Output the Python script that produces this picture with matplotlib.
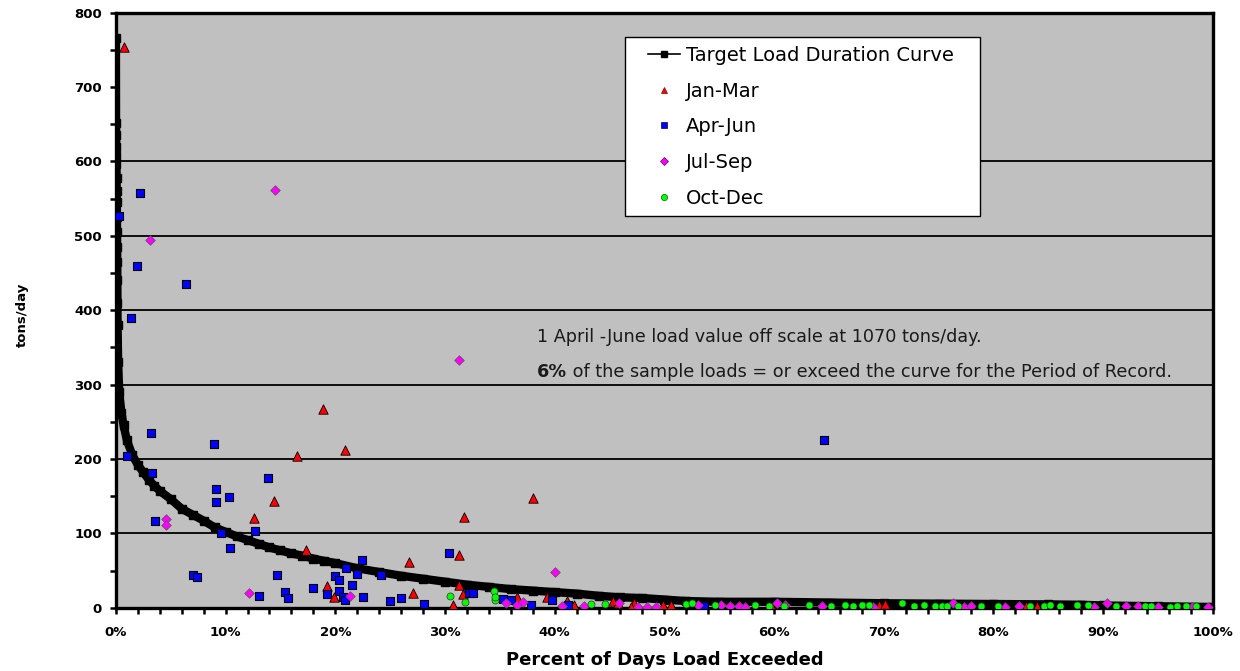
import matplotlib
matplotlib.use("Agg")
import matplotlib.pyplot as plt
from matplotlib.lines import Line2D
from matplotlib.legend_handler import HandlerLine2D
from matplotlib.ticker import MultipleLocator, FuncFormatter

# Target load duration curve (percent of days exceeded vs. load, tons/day)
curve_pct = [0.0, 0.01, 0.02, 0.03, 0.04, 0.05, 0.06, 0.07, 0.08, 0.09, 0.10,
             0.11, 0.12, 0.13, 0.14, 0.15, 0.2, 0.3, 0.5, 0.7, 1.0, 1.5, 2.0,
             2.5, 3.0, 3.5, 4.0, 5.0, 6.0, 7.0, 8.0, 9.0, 10.0, 11.0, 12.0,
             13.0, 14.0, 15.0, 16.0, 17.0, 18.0, 19.0, 20.0, 22.0, 24.0, 26.0,
             28.0, 30.0, 32.0, 34.0, 36.0, 38.0, 40.0, 42.0, 44.0, 46.0, 48.0,
             50.0, 52.0, 55.0, 60.0, 65.0, 70.0, 75.0, 80.0, 85.0, 88.0, 90.0,
             95.0, 100.0]
curve_load = [766, 652, 636, 620, 607, 596, 578, 560, 545, 525, 505,
              485, 465, 440, 410, 380, 330, 290, 262, 245, 225, 205, 192,
              182, 172, 164, 157, 146, 133, 125, 117, 108, 102, 96, 91,
              86, 81, 77, 73, 70, 66, 63, 60, 53, 48, 43,
              39, 35, 31, 28, 25, 23, 21, 19, 16, 14, 13,
              11, 9, 8, 8, 7, 6, 5.5, 5, 4.5, 4, 3,
              2, 1]

# Sample loads by season
jan_pct = [0.7, 18.9, 20.9, 16.5, 14.4, 12.6, 17.3, 38.0, 31.7, 26.7, 31.3,
           19.2, 19.9, 27.1, 31.3, 31.6, 30.7, 36.6, 39.3, 41.1, 41.8, 45.3,
           45.8, 47.2, 47.0, 49.9, 50.6, 59.8, 69.6, 68.1, 70.1, 83.0, 84.0,
           87.7, 94.8]
jan_load = [754, 267, 212, 204, 143, 120, 78, 147, 122, 61, 71,
            29, 15, 20, 30, 18, 4, 14, 14, 9, 4, 9,
            7, 6, 1, 3, 3, 1, 3, 1, 5, 2, 2,
            1, 1]

apr_pct = [0.3, 2.2, 1.9, 6.4, 1.4, 3.2, 1.0, 3.3, 8.9, 9.1, 9.1, 10.3, 13.9,
           3.6, 9.6, 10.4, 12.7, 7.0, 7.4, 14.7, 13.0, 15.4, 15.7, 18.0, 22.4,
           21.0, 22.0, 24.2, 20.0, 20.3, 21.5, 19.2, 20.3, 20.7, 20.9, 22.5,
           25.0, 26.0, 28.1, 30.4, 32.2, 32.6, 35.3, 36.0, 37.8, 39.8, 41.2,
           53.6, 64.6]
apr_load = [526, 557, 460, 435, 390, 235, 204, 181, 220, 159, 142, 149, 174,
            117, 101, 80, 103, 44, 41, 44, 16, 21, 13, 26, 64,
            53, 45, 44, 42, 37, 30, 18, 23, 14, 10, 14,
            9, 13, 5, 74, 20, 20, 12, 10, 3, 10, 4,
            2, 225]

jul_pct = [14.5, 3.1, 31.3, 40.0, 4.6, 4.6, 12.1, 21.3, 35.6, 36.6, 37.1,
           40.7, 42.7, 45.9, 47.6, 48.4, 49.2, 53.1, 55.2, 56.0, 56.8, 57.4,
           60.3, 61.0, 64.4, 69.0, 76.3, 77.3, 78.0, 81.1, 82.3, 89.2, 90.4,
           92.1, 93.2, 95.0, 98.1, 99.6]
jul_load = [562, 494, 333, 48, 119, 111, 20, 16, 6, 4, 8,
            2, 2, 6, 1, 1, 1, 3, 3, 2, 2, 1,
            6, 3, 2, 1, 7, 1, 2, 1, 2, 1, 6,
            2, 2, 1, 0.5, 1]

oct_pct = [30.5, 31.8, 34.5, 34.6, 34.6, 43.3, 44.6, 52.0, 52.5, 54.6, 58.3,
           59.5, 60.9, 63.2, 65.2, 66.5, 67.2, 68.0, 68.7, 71.7, 72.8, 73.7,
           74.7, 75.3, 75.8, 76.8, 78.9, 80.4, 83.3, 84.6, 85.2, 86.1, 87.6,
           88.6, 91.2, 93.8, 94.4, 96.1, 96.7, 97.6, 98.5]
oct_load = [16, 8, 22, 10, 14, 5, 5, 5, 6, 3, 3,
            2, 2, 3, 2, 3, 2, 3, 3, 6, 2, 3,
            2, 2, 2, 2, 2, 2, 2, 2, 3, 2, 3,
            3, 2, 2, 2, 1, 2, 2, 2]

y_ticks = [0, 100, 200, 300, 400, 500, 600, 700, 800]
grid_levels = [100, 200, 300, 400, 500, 600]
x_ticks = [0, 10, 20, 30, 40, 50, 60, 70, 80, 90, 100]
series_labels = ['Target Load Duration Curve', 'Jan-Mar', 'Apr-Jun',
                 'Jul-Sep', 'Oct-Dec']

plt.rcParams['font.family'] = ['DejaVu Sans']

fig = plt.figure(figsize=(12.4, 6.71), dpi=100)
ax = fig.add_axes([0.0935, 0.0943, 0.8845, 0.8868])
ax.set_facecolor('#C0C0C0')

for g in grid_levels:
    ax.axhline(g, color='black', lw=1.3, zorder=1)

# Duration curve: thick black band of square markers
ax.plot(curve_pct, curve_load, color='black', lw=6.0, marker='s', ms=5.5,
        solid_capstyle='butt', zorder=2)

ax.scatter(jan_pct, jan_load, marker='^', s=46, c='#FF0000',
           edgecolors='black', linewidths=0.6, zorder=3)
ax.scatter(apr_pct, apr_load, marker='s', s=32, c='#0000FF',
           edgecolors='black', linewidths=0.8, zorder=4)
ax.scatter(jul_pct, jul_load, marker='D', s=24, c='#FF00FF',
           edgecolors='#555555', linewidths=0.5, zorder=5)
ax.scatter(oct_pct, oct_load, marker='o', s=26, c='#00FF00',
           edgecolors='#333333', linewidths=0.5, zorder=6)

ax.set_xlim(0, 100)
ax.set_ylim(0, 800)
ax.set_yticks(y_ticks)
ax.yaxis.set_minor_locator(MultipleLocator(50))
ax.set_xticks(x_ticks)
ax.xaxis.set_minor_locator(MultipleLocator(2))
ax.xaxis.set_major_formatter(FuncFormatter(lambda v, p: f"{int(v)}%"))

for lab in ax.get_xticklabels() + ax.get_yticklabels():
    lab.set_fontweight('bold')
    lab.set_fontsize(9.5)
ax.tick_params(axis='both', which='both', direction='out', width=1.8,
               length=4, color='black')
ax.tick_params(axis='x', pad=9)
ax.tick_params(axis='y', pad=6)

for side in ['left', 'bottom', 'top', 'right']:
    ax.spines[side].set_linewidth(2.4)
    ax.spines[side].set_color('black')

ax.set_xlabel('Percent of Days Load Exceeded', fontsize=13,
              fontweight='bold', labelpad=9)
fig.text(22 / 1240, 1 - 315 / 671, 'tons/day', rotation=90, ha='center',
         va='center', fontsize=9.5, fontweight='bold')

handles = [
    Line2D([], [], color='black', lw=1.2, marker='s', ms=4),
    Line2D([], [], ls='none', marker='^', ms=5, mfc='#FF0000', mec='#880000', mew=0.5),
    Line2D([], [], ls='none', marker='s', ms=4.5, mfc='#0000FF', mec='#000044', mew=0.5),
    Line2D([], [], ls='none', marker='D', ms=4, mfc='#FF00FF', mec='#660066', mew=0.5),
    Line2D([], [], ls='none', marker='o', ms=4.5, mfc='#00FF00', mec='#006600', mew=0.5),
]
leg_h = 0.304
leg = ax.legend(handles, series_labels, loc='upper left',
                bbox_to_anchor=(0.464, 0.959 - leg_h, 0.3236, leg_h),
                mode='expand', frameon=True, fancybox=False, edgecolor='black',
                facecolor='white', framealpha=1, fontsize=14,
                handlelength=2.4, handletextpad=0.3, labelspacing=0.86,
                borderpad=0.45, borderaxespad=0,
                handler_map={Line2D: HandlerLine2D(xpad=0.75)})
leg.get_frame().set_linewidth(1.0)
leg.set_zorder(10)

note_kw = dict(fontsize=12.7, color='#1a1a1a', va='center')
ax.text(0.3838, 0.455, '1 April -June load value off scale at 1070 tons/day.',
        transform=ax.transAxes, **note_kw)
pct_txt = ax.text(0.3838, 0.396, '6%', transform=ax.transAxes,
                  fontweight='bold', **note_kw)
ax.annotate(' of the sample loads = or exceed the curve for the Period of Record.',
            xy=(1, 0.5), xycoords=pct_txt, **note_kw)

fig.savefig('out.png', dpi=100)
